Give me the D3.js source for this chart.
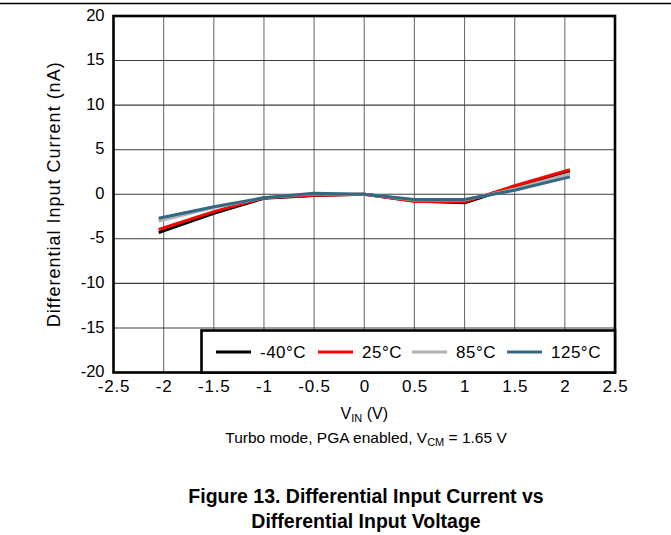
<!DOCTYPE html>
<html>
<head>
<meta charset="utf-8">
<script src="https://cdn.jsdelivr.net/npm/d3@7"></script>
<style>
  html, body { margin: 0; padding: 0; background: #fff; }
  svg { display: block; font-family: "Liberation Sans", Arial, sans-serif; }
</style>
</head>
<body>
<svg id="chart" width="671" height="535"></svg>
<script>
// ---- data ----
const vin = [-2.05, -1.5, -1, -0.5, 0, 0.5, 1, 1.5, 2.05];
const seriesNames = ["-40°C", "25°C", "85°C", "125°C"];
const seriesColors = ["#000000", "#ff0000", "#b0b0b0", "#336782"];
const iM40 = [-4.3, -2.15, -0.45, -0.15, 0, -0.75, -0.95, 0.85, 2.6];
const i25 = [-3.95, -1.95, -0.4, -0.1, 0, -0.8, -0.85, 0.95, 2.75];
const i85 = [-3.0, -1.5, -0.4, 0.05, 0, -0.65, -0.65, 0.6, 2.3];
const i125 = [-2.7, -1.4, -0.4, 0.1, 0, -0.6, -0.6, 0.45, 1.95];
const xTicks = [-2.5, -2, -1.5, -1, -0.5, 0, 0.5, 1, 1.5, 2, 2.5];
const yTicks = [-20, -15, -10, -5, 0, 5, 10, 15, 20];
const seriesValues = [iM40, i25, i85, i125];

// ---- layout ----
const svg = d3.select("#chart");
const x = d3.scaleLinear().domain([-2.5, 2.5]).range([113.5, 615]);
const y = d3.scaleLinear().domain([-20, 20]).range([372.5, 16]);
const fmt = d => String(d);   // plain hyphen minus, as in the reference

// page header rule
svg.append("line").attr("x1", 0).attr("x2", 671).attr("y1", 3.5).attr("y2", 3.5)
  .attr("stroke", "#000").attr("stroke-width", 1.5);

// grid
const grid = svg.append("g");
grid.selectAll("line.v").data(xTicks.slice(1, -1)).join("line")
  .attr("x1", d => x(d)).attr("x2", d => x(d)).attr("y1", y(20)).attr("y2", y(-20))
  .attr("stroke", "#707070").attr("stroke-width", 1.1);
grid.selectAll("line.h").data(yTicks.slice(1, -1)).join("line")
  .attr("y1", d => y(d)).attr("y2", d => y(d)).attr("x1", x(-2.5)).attr("x2", x(2.5))
  .attr("stroke", "#3c3c3c").attr("stroke-width", 1.1);

// axes (labels only)
const xAxis = svg.append("g").attr("transform", `translate(0,${y(-20)})`)
  .call(d3.axisBottom(x).tickValues(xTicks).tickSize(0).tickPadding(7).tickFormat(fmt));
const yAxis = svg.append("g").attr("transform", `translate(${x(-2.5)},0)`)
  .call(d3.axisLeft(y).tickValues(yTicks).tickSize(0).tickPadding(9).tickFormat(fmt));
[xAxis, yAxis].forEach(a => {
  a.select(".domain").remove();
  a.selectAll("text").attr("fill", "#000")
    .attr("font-family", "Liberation Sans, Arial, sans-serif");
});
xAxis.selectAll("text").attr("font-size", 17).attr("letter-spacing", 0.8);
yAxis.selectAll("text").attr("font-size", 16.5).attr("dy", "0.25em");

// series lines
const line = d3.line().x((d, i) => x(vin[i])).y(d => y(d));
svg.append("g").selectAll("path").data(seriesValues).join("path")
  .attr("d", d => line(d))
  .attr("fill", "none")
  .attr("stroke", (d, i) => seriesColors[i])
  .attr("stroke-width", 3)
  .attr("stroke-linejoin", "round");

// plot border
svg.append("rect").attr("x", x(-2.5)).attr("y", y(20))
  .attr("width", x(2.5) - x(-2.5)).attr("height", y(-20) - y(20))
  .attr("fill", "none").attr("stroke", "#000").attr("stroke-width", 2.6);

// legend
const lg = svg.append("g");
lg.append("rect").attr("x", 201.5).attr("y", 330.5)
  .attr("width", x(2.5) - 201.5).attr("height", y(-20) - 330.5)
  .attr("fill", "#fff").attr("stroke", "#000").attr("stroke-width", 2.6);
const legendX = [216, 318, 412, 507];
seriesNames.forEach((name, i) => {
  lg.append("line").attr("x1", legendX[i]).attr("x2", legendX[i] + 35)
    .attr("y1", 352).attr("y2", 352)
    .attr("stroke", seriesColors[i]).attr("stroke-width", 3);
  lg.append("text").attr("x", legendX[i] + 44).attr("y", 352).attr("dy", "0.35em")
    .attr("font-size", 17).attr("letter-spacing", 0.5).text(name);
});

// axis titles
const xt = svg.append("text").attr("x", x(0)).attr("y", 419)
  .attr("text-anchor", "middle").attr("font-size", 16);
xt.append("tspan").text("V");
xt.append("tspan").attr("font-size", 11).attr("dy", 3).text("IN");
xt.append("tspan").attr("dy", -3).text(" (V)");

svg.append("text").attr("transform", `translate(60,${y(0)}) rotate(-90)`)
  .attr("text-anchor", "middle").attr("font-size", 18).attr("letter-spacing", 1)
  .text("Differential Input Current (nA)");

// condition note
const note = svg.append("text").attr("x", 366).attr("y", 443)
  .attr("text-anchor", "middle").attr("font-size", 15.5);
note.append("tspan").text("Turbo mode, PGA enabled, V");
note.append("tspan").attr("font-size", 11).attr("dy", 3).text("CM");
note.append("tspan").attr("dy", -3).text(" = 1.65 V");

// figure caption
svg.append("text").attr("x", 366).attr("y", 503).attr("text-anchor", "middle")
  .attr("font-size", 19.5).attr("font-weight", "bold")
  .text("Figure 13. Differential Input Current vs");
svg.append("text").attr("x", 366).attr("y", 528).attr("text-anchor", "middle")
  .attr("font-size", 19.5).attr("font-weight", "bold")
  .text("Differential Input Voltage");
</script>
</body>
</html>
